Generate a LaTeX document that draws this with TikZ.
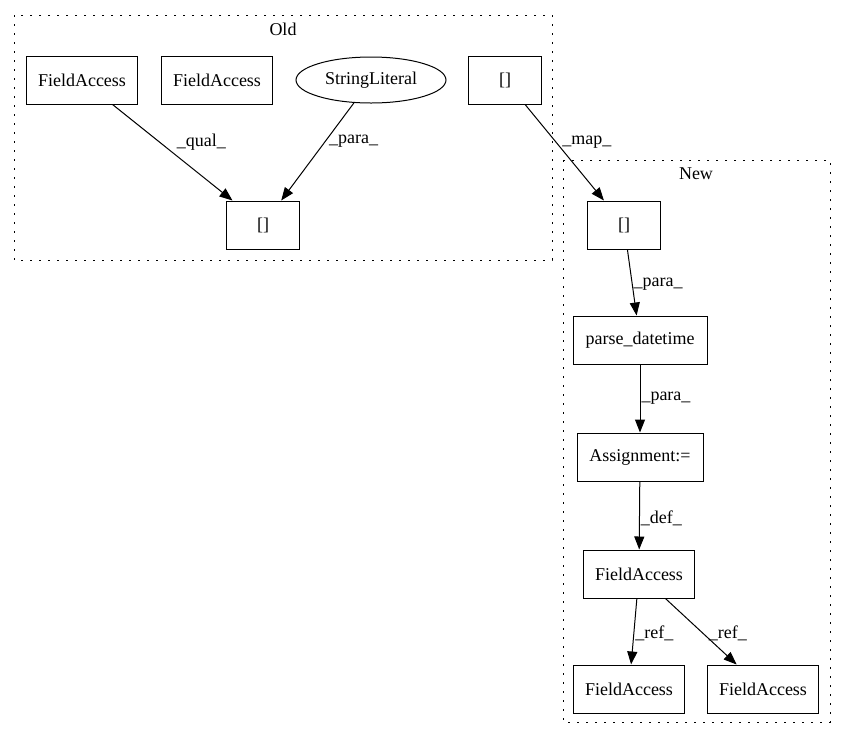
\documentclass[tikz,border=0pt]{standalone}
\usepackage{fontspec}
\setmainfont{Liberation Serif}
\usetikzlibrary{arrows.meta,shapes.geometric}
\begin{document}
\begin{tikzpicture}[x=1pt,y=-1pt,
  font=\fontsize{18}{21}\selectfont,
  box/.style={draw,line width=1pt,rectangle,minimum height=48pt,inner sep=0pt},
  oval/.style={draw,line width=1pt,ellipse,minimum width=150pt,minimum height=46pt,inner sep=0pt},
  edge/.style={line width=1pt,-{Triangle[length=13pt,width=10pt]}},
  lbl/.style={anchor=west,inner sep=1pt},
  cluster/.style={line width=1pt,dash pattern=on 2pt off 7pt}]
\useasboundingbox (0,0) rectangle (847,740);

% clusters
\draw[cluster] (14,15) rectangle (552,260);
\node (oldlbl) at (283,29) {Old};
\draw[cluster] (563,160) rectangle (830,722);
\node (newlbl) at (696,174) {New};

% old graph
\node[box,minimum width=111pt] (fa1) at (82,80) {FieldAccess};
\node[box,minimum width=111pt] (fa2) at (217,80) {FieldAccess};
\node[oval] (strlit) at (371,80) {StringLiteral};
\node[box,minimum width=73pt] (arrold) at (505,80) {[]};
\node[box,minimum width=73pt] (arrsub) at (263,225) {[]};

% new graph
\node[box,minimum width=73pt] (arrnew) at (624,225) {[]};
\node[box,minimum width=134pt] (parse) at (640,340) {parse\_datetime};
\node[box,minimum width=126pt] (assign) at (640,457) {Assignment:=};
\node[box,minimum width=111pt] (fadef) at (639,574) {FieldAccess};
\node[box,minimum width=111pt] (faref1) at (629,689) {FieldAccess};
\node[box,minimum width=111pt] (faref2) at (763,689) {FieldAccess};

% edges
\draw[edge] (fa1) -- node[lbl,pos=.39,xshift=16pt] {\_qual\_} (arrsub);
\draw[edge] (strlit) -- node[lbl,pos=.39,xshift=2pt] {\_para\_} (arrsub);
\draw[edge] (arrold) -- node[lbl,pos=.39,xshift=5pt] {\_map\_} (arrnew);
\draw[edge] (arrnew) -- node[lbl,pos=.52] {\_para\_} (parse);
\draw[edge] (parse) -- node[lbl,pos=.5] {\_para\_} (assign);
\draw[edge] (assign) -- node[lbl,pos=.54] {\_def\_} (fadef);
\draw[edge] (fadef) -- node[lbl,pos=.52] {\_ref\_} (faref1);
\draw[edge] (fadef) -- node[lbl,pos=.52,xshift=5pt] {\_ref\_} (faref2);

\end{tikzpicture}
\end{document}
